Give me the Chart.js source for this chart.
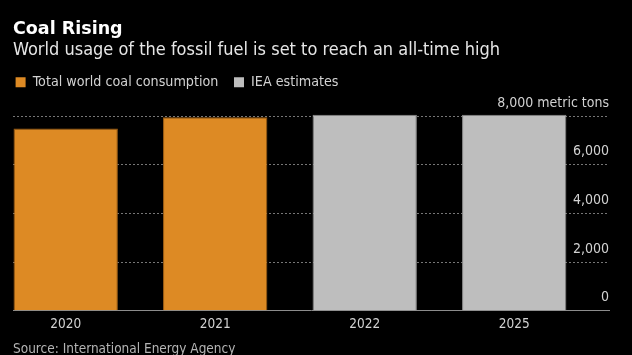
<!DOCTYPE html>
<html>
<head>
<meta charset="utf-8">
<script src="https://cdn.jsdelivr.net/npm/chart.js@4/dist/chart.umd.min.js"></script>
<style>
  html, body { margin: 0; padding: 0; background: #000; }
  #wrap { position: relative; width: 632px; height: 355px; }
</style>
</head>
<body>
<div id="wrap"><canvas id="c" width="632" height="355"></canvas></div>
<script>
// ---- data ----
const years = ['2020', '2021', '2022', '2025'];
const coalConsumption = [7490, 7960, null, null];
const ieaEstimates = [null, null, 8060, 8060];
const yTicks = [0, 2000, 4000, 6000, 8000];
const yUnit = 'metric tons';

const titleText = 'Coal Rising';
const subtitleText = 'World usage of the fossil fuel is set to reach an all-time high';
const sourceText = 'Source: International Energy Agency';

const FONT = "'DejaVu Sans Condensed', 'DejaVu Sans', sans-serif";
const ORANGE = '#dd8a24';
const GRAY = '#bebebe';

const toPoints = arr => arr.map((v, i) => ({ x: i, y: v }));

const legendShift = {
  id: 'legendShift',
  afterLayout(chart) {
    if (chart.legend) chart.legend.left = 0;
  }
};

new Chart(document.getElementById('c'), {
  type: 'bar',
  data: {
    datasets: [
      {
        label: 'Total world coal consumption',
        data: toPoints(coalConsumption),
        backgroundColor: ORANGE,
        borderColor: '#9a5c14',
        borderWidth: 1,
        grouped: false,
        clip: false,
        categoryPercentage: 1,
        barPercentage: 0.698
      },
      {
        label: 'IEA estimates',
        data: toPoints(ieaEstimates),
        backgroundColor: GRAY,
        borderColor: '#8a8a8a',
        borderWidth: 1,
        grouped: false,
        clip: false,
        categoryPercentage: 1,
        barPercentage: 0.698
      }
    ]
  },
  options: {
    responsive: false,
    animation: false,
    layout: { padding: { left: 13, right: 23, top: 0, bottom: 0 } },
    plugins: {
      title: {
        display: true,
        text: titleText,
        align: 'start',
        color: '#ffffff',
        font: { family: "'DejaVu Sans', sans-serif", size: 17.5, weight: 'bold', lineHeight: 1 },
        padding: { top: 20.9, bottom: 0 }
      },
      subtitle: {
        display: true,
        text: subtitleText,
        align: 'start',
        color: '#e6e6e6',
        font: { family: FONT, size: 18, weight: 'normal', lineHeight: 1 },
        padding: { top: 2.6, bottom: 0.6 }
      },
      legend: {
        display: true,
        position: 'top',
        align: 'start',
        labels: {
          boxWidth: 10,
          boxHeight: 10,
          padding: 15.6,
          color: '#d2d2d2',
          font: { family: FONT, size: 14.2 },
          generateLabels: chart => chart.data.datasets.map((ds, i) => ({
            text: ds.label,
            fillStyle: ds.backgroundColor,
            strokeStyle: ds.backgroundColor,
            lineWidth: 0,
            fontColor: '#d2d2d2',
            hidden: false,
            datasetIndex: i
          }))
        }
      },
      tooltip: { enabled: false }
    },
    scales: {
      x: {
        type: 'linear',
        position: 'bottom',
        offset: false,
        min: -0.3525,
        max: 3.634,
        afterBuildTicks: s => { s.ticks = years.map((_, i) => ({ value: i })); },
        ticks: {
          color: '#d2d2d2',
          font: { family: FONT, size: 13.5 },
          padding: 5.5,
          callback: v => years[v]
        },
        grid: { display: false, drawTicks: false, offset: false },
        border: { display: true, color: '#8c8c8c', width: 1 },
        title: {
          display: true,
          text: sourceText,
          align: 'start',
          color: '#b4b4b4',
          font: { family: FONT, size: 13.5, lineHeight: 1 },
          padding: { top: 4.6, bottom: -1 }
        }
      },
      spacer: {
        type: 'linear',
        position: 'top',
        display: true,
        offset: false,
        ticks: { display: false },
        grid: { display: false, drawTicks: false },
        border: { display: false },
        afterFit: s => { s.height = 16.8; }
      },
      y: {
        position: 'right',
        min: yTicks[0],
        max: yTicks[yTicks.length - 1],
        afterBuildTicks: s => { s.ticks = yTicks.map(v => ({ value: v })); },
        ticks: {
          mirror: true,
          padding: 0,
          labelOffset: -13,
          color: '#d2d2d2',
          font: { family: FONT, size: 14 },
          callback: v => {
            const s = v.toLocaleString('en-US');
            return v === yTicks[yTicks.length - 1] ? s + ' ' + yUnit : s;
          }
        },
        grid: { color: '#767676', lineWidth: 1, drawTicks: false },
        border: { display: false, dash: [2, 2] }
      }
    }
  },
  plugins: [legendShift]
});
</script>
</body>
</html>
